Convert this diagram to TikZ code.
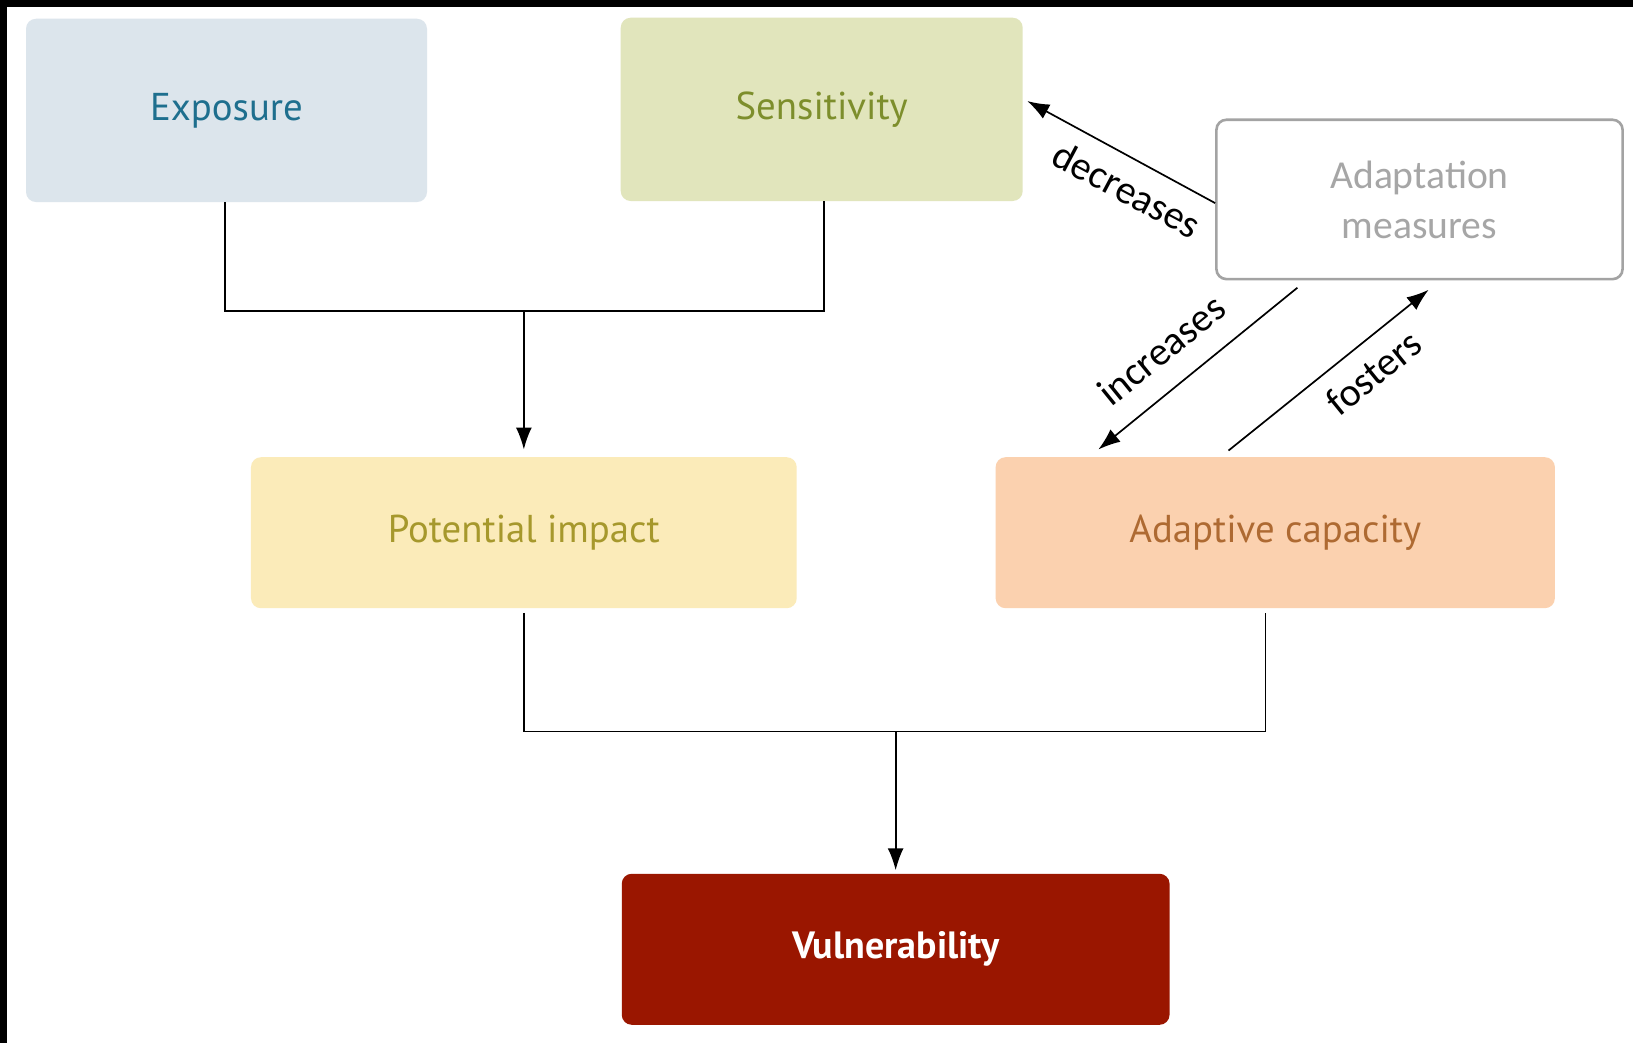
\documentclass[tikz,border=0pt]{standalone}
\usepackage{fontspec}
\setmainfont{PT Sans}
\newfontfamily\labfont{Carlito}
\usetikzlibrary{arrows.meta,calc}
\definecolor{expofill}{HTML}{DCE5EC}
\definecolor{expotext}{HTML}{1E6F8E}
\definecolor{sensfill}{HTML}{E1E5BC}
\definecolor{senstext}{HTML}{7D8E2C}
\definecolor{measdraw}{HTML}{A3A3A3}
\definecolor{meastext}{HTML}{A6A6A6}
\definecolor{potfill}{HTML}{FBEBB9}
\definecolor{pottext}{HTML}{A6982C}
\definecolor{adapfill}{HTML}{FBD1AF}
\definecolor{adaptext}{HTML}{AE6A32}
\definecolor{vulnfill}{HTML}{9A1600}
\tikzset{
  box/.style={rounded corners=5pt, inner sep=0pt, align=center, font=\fontsize{19.4}{23}\selectfont},
  conn/.style={line width=0.85pt, black},
  arr/.style={conn, -{Latex[length=11pt,width=8pt]}},
  lab/.style={font=\labfont\fontsize{20}{24}\selectfont, inner sep=0pt}
}
\begin{document}
\begin{tikzpicture}[x=0.5207pt, y=-0.5207pt]
\fill[white] (0,0) rectangle (1568,1001.5);
\useasboundingbox (0,0) rectangle (1568,1001.5);
\fill[black] (0,0) rectangle (1568,6.4);
\fill[black] (0,0) rectangle (6.4,1001.5);

\node[box, fill=expofill, text=expotext, minimum width={385*0.5207pt}, minimum height={176*0.5207pt}] (expo) at (217.5,106) {Exposure};
\node[box, fill=sensfill, text=senstext, minimum width={386*0.5207pt}, minimum height={176*0.5207pt}] (sens) at (789,105) {Sensitivity};
\node[box, draw=measdraw, line width=1.3pt, fill=white, text=meastext, font=\labfont\fontsize{19.8}{25}\selectfont, minimum width={390*0.5207pt}, minimum height={153*0.5207pt}] (meas) at (1363,191.5) {Adaptation\\measures};
\node[box, fill=potfill, text=pottext, minimum width={524*0.5207pt}, minimum height={145*0.5207pt}] (pot) at (503,511.5) {Potential impact};
\node[box, fill=adapfill, text=adaptext, minimum width={537*0.5207pt}, minimum height={145*0.5207pt}] (adap) at (1224.5,511.5) {Adaptive capacity};
\node[box, fill=vulnfill, text=white, font=\bfseries\fontsize{19}{23}\selectfont, minimum width={526*0.5207pt}, minimum height={145*0.5207pt}] (vuln) at (860,911.5) {Vulnerability};

% upper junction
\coordinate (j1) at (503,298);
\draw[conn] ($(expo.south)+(-1.5,0)$) -- ++(0,104) -| ($(sens.south)+(2,0)$);
\draw[arr] (j1) -- ($(pot.north)+(0,-7)$);

% lower junction
\coordinate (j2) at (860,702);
\draw[conn] ($(pot.south)+(0,4)$) -- ++(0,114) -| ($(adap.south)+(-9.5,4)$);
\draw[arr] (j2) -- ($(vuln.north)+(0,-3)$);

% diagonal arrows
\coordinate (d1) at ($(meas.west)+(0,3.5)$);
\coordinate (d2) at ($(sens.east)+(4,-8)$);
\draw[arr] (d1) -- (d2);
\coordinate (i1) at ($(meas.south west)+(79,7)$);
\coordinate (i2) at ($(adap.north west)+(99,-7)$);
\draw[arr] (i1) -- (i2);
\coordinate (f1) at ($(adap.north west)+(224,-6)$);
\coordinate (f2) at ($(meas.south west)+(205,9)$);
\draw[arr] (f1) -- (f2);

\node[lab, rotate=-28] (ldec) at (1082,182) {decreases};
\node[lab, rotate=39] (linc) at (1115,336) {increases};
\node[lab, rotate=39] (lfos) at (1319,358) {fosters};
\end{tikzpicture}
\end{document}
